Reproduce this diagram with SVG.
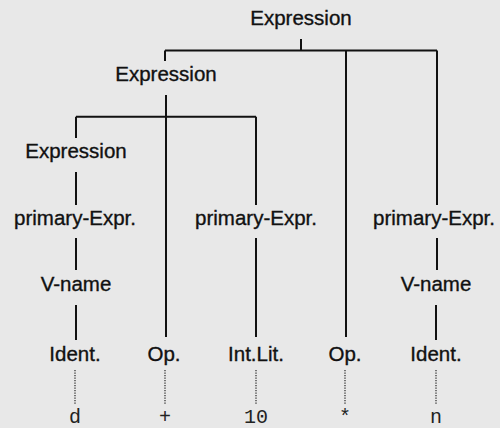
<svg xmlns="http://www.w3.org/2000/svg" width="500" height="428" viewBox="0 0 500 428">
<style>
.n{font-family:"Liberation Sans",Arial,sans-serif;font-size:20.5px;fill:#111;stroke:#111;stroke-width:0.35;text-anchor:middle}
.t{font-family:"Liberation Mono","Courier New",monospace;font-size:20px;fill:#222;text-anchor:middle}
.e{stroke:#111;stroke-width:2;fill:none}
.d{stroke:#333;stroke-width:1.3;stroke-dasharray:1.2 1.3;fill:none}
</style>
<rect width="500" height="428" fill="#e8e8e8"/>
<g id="edges">
<path class="e" d="M301 39V50.5M165 50.5H437M165 50.5V61M346 50.5V337M437 50.5V205"/>
<path class="e" d="M166 95V117M76 116.7H256M76 116.7V138M166 116.7V337M256 116.7V205"/>
<path class="e" d="M76 172V205M76 238V270M256 238V337M437 238V270M76 305V340M436 305V340"/>
<path class="d" d="M75 370V405M165 370V405M256 370V405M345 370V405M436 370V405"/>
</g>
<g id="expr1"><text class="n" x="301" y="25">Expression</text></g>
<g id="expr2"><text class="n" x="166" y="81">Expression</text></g>
<g id="expr3"><text class="n" x="76" y="158">Expression</text></g>
<g id="prim1"><text class="n" x="75" y="225">primary-Expr.</text></g>
<g id="prim2"><text class="n" x="256" y="225">primary-Expr.</text></g>
<g id="prim3"><text class="n" x="434" y="225">primary-Expr.</text></g>
<g id="vname1"><text class="n" x="76" y="291">V-name</text></g>
<g id="vname2"><text class="n" x="436" y="291">V-name</text></g>
<g id="ident1"><text class="n" x="75" y="361">Ident.</text></g>
<g id="op1"><text class="n" x="164" y="361">Op.</text></g>
<g id="intlit"><text class="n" x="256" y="361">Int.Lit.</text></g>
<g id="op2"><text class="n" x="345" y="361">Op.</text></g>
<g id="ident2"><text class="n" x="436" y="361">Ident.</text></g>
<g id="tok_d"><text class="t" x="75" y="423">d</text></g>
<g id="tok_plus"><text class="t" x="165" y="423">+</text></g>
<g id="tok_10"><text class="t" x="256" y="423">10</text></g>
<g id="tok_star"><text class="t" x="345" y="423">*</text></g>
<g id="tok_n"><text class="t" x="436" y="423">n</text></g>
</svg>
